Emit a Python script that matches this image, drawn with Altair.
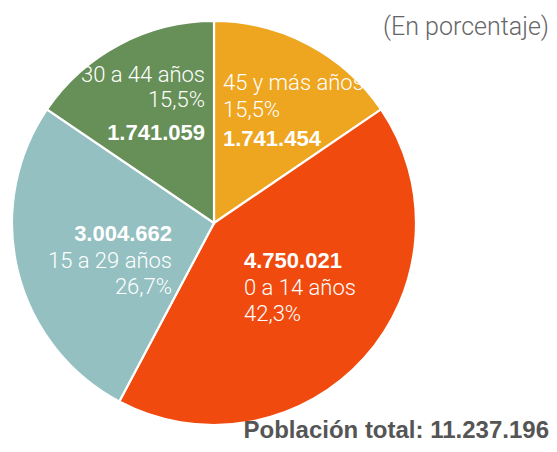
import altair as alt
import pandas as pd

# ---- data ----
categories = ["45 y más años", "0 a 14 años", "15 a 29 años", "30 a 44 años"]
values = [1741454, 4750021, 3004662, 1741059]
percents = ["15,5%", "42,3%", "26,7%", "15,5%"]
colors = ["#EEA520", "#F04A0E", "#94C0C1", "#678F58"]
total_label = "Población total: 11.237.196"
subtitle = "(En porcentaje)"

# ---- layout (pixel anchors of the in-slice label blocks, chart coords) ----
label_layout = {
    "45 y más años": dict(x=215, align="left", y_name=82, y_pct=109, y_val=138),
    "0 a 14 años": dict(x=236, align="left", y_name=287, y_pct=313, y_val=260),
    "15 a 29 años": dict(x=164, align="right", y_name=260, y_pct=286, y_val=233),
    "30 a 44 años": dict(x=197, align="right", y_name=74, y_pct=99, y_val=132),
}

W, H = 541, 436
CX, CY, R = 206, 215, 202


def fmt_thousands(v):
    return f"{v:,}".replace(",", ".")


pie_df = pd.DataFrame({"cat": categories, "value": values, "order": range(len(categories))})

pie = alt.Chart(pie_df).mark_arc(
    radius=R, stroke="white", strokeWidth=2.2
).encode(
    theta=alt.Theta("value:Q", stack=True),
    order=alt.Order("order:O"),
    color=alt.Color("cat:N", scale=alt.Scale(domain=categories, range=colors), legend=None),
    x=alt.value(CX),
    y=alt.value(CY),
)

light_rows, bold_rows = [], []
for cat, val, pct in zip(categories, values, percents):
    L = label_layout[cat]
    light_rows.append(dict(t=cat, x=L["x"], y=L["y_name"], align=L["align"]))
    light_rows.append(dict(t=pct, x=L["x"], y=L["y_pct"], align=L["align"]))
    bold_rows.append(dict(t=fmt_thousands(val), x=L["x"], y=L["y_val"], align=L["align"]))

light_df = pd.DataFrame(light_rows)
bold_df = pd.DataFrame(bold_rows)


def text_layer(df, align, **kw):
    sub = df[df["align"] == align]
    return alt.Chart(sub).mark_text(align=align, baseline="alphabetic", **kw).encode(
        x=alt.X("x:Q", scale=None, axis=None),
        y=alt.Y("y:Q", scale=None, axis=None),
        text="t:N",
    )


light_kw = dict(font="Roboto", fontWeight=300, fontSize=22, color="white")
bold_kw = dict(font="Liberation Sans", fontWeight="bold", fontSize=22, color="white")

layers = [pie]
for a in ["left", "right"]:
    layers.append(text_layer(light_df, a, **light_kw))
    layers.append(text_layer(bold_df, a, **bold_kw))

title_df = pd.DataFrame([dict(t=subtitle, x=541, y=27)])
total_df = pd.DataFrame([dict(t=total_label, x=541, y=430)])

layers.append(
    alt.Chart(title_df).mark_text(
        align="right", baseline="alphabetic", font="Roboto", fontWeight=300,
        fontSize=25, color="#666666"
    ).encode(x=alt.X("x:Q", scale=None, axis=None), y=alt.Y("y:Q", scale=None, axis=None), text="t:N")
)
layers.append(
    alt.Chart(total_df).mark_text(
        align="right", baseline="alphabetic", font="Liberation Sans", fontWeight="bold",
        fontSize=24, color="#555555"
    ).encode(x=alt.X("x:Q", scale=None, axis=None), y=alt.Y("y:Q", scale=None, axis=None), text="t:N")
)

chart = alt.layer(*layers).properties(
    width=W, height=H, autosize=alt.AutoSizeParams(type="none"), padding=0
).configure_view(stroke=None)

chart.save("out.html", embed_options={"renderer": "svg", "actions": False})
